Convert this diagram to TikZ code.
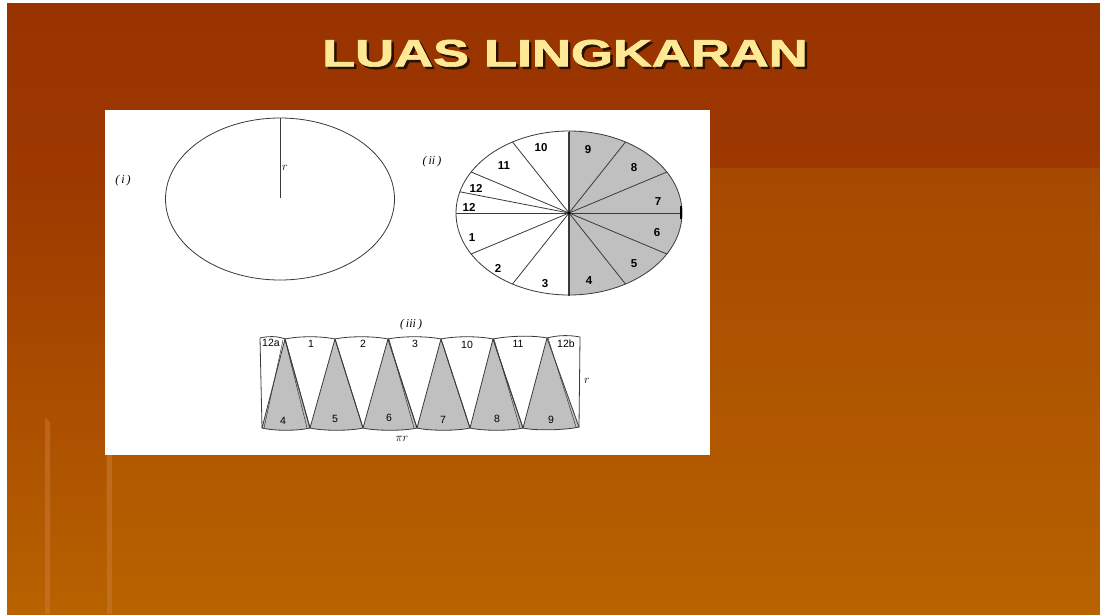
\documentclass[tikz,border=0pt]{standalone}
\usepackage{fontspec}
\setmainfont{Liberation Serif}
\newfontfamily\sansf{Liberation Sans}
\newfontfamily\titlef{Liberation Sans Bold}[FakeBold=1.6]
\usepackage{graphicx}
\usetikzlibrary{calc}
\definecolor{bgtop}{HTML}{993300}
\definecolor{bgband}{HTML}{9C3800}
\definecolor{bgmid}{HTML}{A64900}
\definecolor{bgbot}{HTML}{B86200}
\definecolor{titlecol}{HTML}{FFE994}
\definecolor{shadowcol}{HTML}{2A1000}
\definecolor{sectgray}{HTML}{C0C0C0}
\definecolor{linecol}{HTML}{3A3A3A}
\definecolor{streak}{HTML}{CC8040}
\newcommand{\titletext}{\scalebox{1.42}[1]{LUAS LINGKARAN}}
\begin{document}
\begin{tikzpicture}[x=1pt,y=-1pt,
  lbl/.style={font=\sansf\bfseries\fontsize{11.5}{12}\selectfont, inner sep=0pt},
  slbl/.style={font=\sansf\fontsize{10.5}{11}\selectfont, inner sep=0pt},
  ital/.style={font=\itshape\fontsize{12}{12}\selectfont, inner sep=0pt},
  ln/.style={draw=linecol, line width=0.8pt},
  titlestyle/.style={font=\titlef\fontsize{38}{38}\selectfont, inner sep=0pt}]
\useasboundingbox (0,0) rectangle (1100,614);
% background
\fill[white] (0,0) rectangle (1100,614);
\shade[top color=bgtop, bottom color=bgband] (7,3) rectangle (1100,168);
\shade[top color=bgmid, bottom color=bgbot] (7,168) rectangle (1100,614);
\shade[top color=bgband, bottom color=bgbot] (7,168) rectangle (105,614);
\fill[streak, opacity=0.45] (45,418) -- (50,422) -- (50,614) -- (45,614) -- cycle;
\fill[streak, opacity=0.45] (107,455) -- (112,455) -- (112,614) -- (107,614) -- cycle;
% title (shadow + text in one node)
\node[titlestyle] (title) at (565,54.5)
  {\makebox[0pt][l]{\hspace{2.5pt}\raisebox{-2.5pt}{\color{shadowcol}\titletext}}\color{titlecol}\titletext};
% picture box
\fill[white] (105,110) rectangle (710,455);

% ---------- (i) ----------
\coordinate (c1) at (280,199);
\draw[ln] (c1) ellipse [x radius=114.5, y radius=81];
\coordinate (c1top) at (280,118);
\draw[ln, line width=1pt] (c1top) -- (280,198);
\node[ital] (r1) at (285,168) {$r$};
\node[ital] (lab1) at (123,181) {(\,\textit{i}\,)};

% ---------- (ii) ----------
\coordinate (c2) at (569,213);
\begin{scope}
  \clip (c2) ellipse [x radius=113, y radius=82];
  \fill[sectgray] (569,120) rectangle (700,310);
\end{scope}
\draw[ln] (c2) ellipse [x radius=113, y radius=82];
\foreach \t in {90,60,30,0,-30,-60,-90,120,150,165,180,210,240}
  \draw[ln] (c2) -- ++({113*cos(\t)},{-82*sin(\t)});
\draw[ln, line width=1.1pt] (569,132) -- (569,296);
\fill[black] (c2) circle [radius=1.6];
\draw[black, line width=1.6pt] (681,206) -- (681,219);
\node[ital] (lab2) at (432,162) {(\,\textit{ii}\,)};
\node[lbl] (s9) at (588,150) {9};
\node[lbl] (s8) at (634,168) {8};
\node[lbl] (s7) at (658,202) {7};
\node[lbl] (s6) at (657,233) {6};
\node[lbl] (s5) at (634,264) {5};
\node[lbl] (s4) at (589,281) {4};
\node[lbl] (s3) at (545,284) {3};
\node[lbl] (s2) at (498,268) {2};
\node[lbl] (s1) at (472,238) {1};
\node[lbl] (s12b) at (469,207) {12};
\node[lbl] (s12a) at (476,188) {12};
\node[lbl] (s11) at (504,166) {11};
\node[lbl] (s10) at (541,148) {10};

% ---------- (iii) ----------
\node[ital] (lab3) at (411,325) {(\,\textit{iii}\,)};
\coordinate (a1) at (285,339);
\coordinate (a2) at (335,339);
\coordinate (a3) at (388,339);
\coordinate (a4) at (441,339);
\coordinate (a5) at (493,339);
\coordinate (a6) at (547,338);
\coordinate (b1) at (262,428);
\coordinate (b2) at (310,428);
\coordinate (b3) at (363,428);
\coordinate (b4) at (417,428);
\coordinate (b5) at (470,428);
\coordinate (b6) at (523,428);
\coordinate (b7) at (579,427);
\coordinate (tl) at (260,338);
\coordinate (tr) at (580,337);
% gray triangles
\foreach \k/\n in {1/2,2/3,3/4,4/5,5/6,6/7}{
  \fill[sectgray] (a\k) -- (b\k) .. controls ($(b\k)+(12,3)$) and ($(b\n)+(-12,3)$) .. (b\n) -- cycle;
  \draw[ln] (a\k) -- (b\k) .. controls ($(b\k)+(12,3)$) and ($(b\n)+(-12,3)$) .. (b\n) -- cycle;
}
% top wavy edges
\draw[ln] (tl) .. controls (268,336) and (278,336) .. (a1);
\foreach \k/\n in {1/2,2/3,3/4,4/5,5/6}{
  \draw[ln] (a\k) .. controls ($(a\k)+(14,-3)$) and ($(a\n)+(-14,-3)$) .. (a\n);
  \draw[ln] (a\k) -- (b\n);
}
\draw[ln] (a6) .. controls (558,335) and (570,335) .. (tr);
\draw[ln] (tl) -- (b1);
\draw[ln] (tr) -- (b7);
% doubled edges
\draw[ln, line width=0.5pt] (a1) -- ($(b2)+(-3,0)$);
\draw[ln, line width=0.5pt] ($(a1)+(-2,1)$) -- ($(b1)+(2,0)$);
\draw[ln, line width=0.5pt] ($(a3)+(1,0)$) -- ($(b4)+(-3,0)$);
\draw[ln, line width=0.5pt] ($(a5)+(1,0)$) -- ($(b6)+(-3,0)$);
\draw[ln, line width=0.5pt] ($(a6)+(1,0)$) -- ($(b7)+(-3,0)$);
% labels
\node[slbl] (t12a) at (271,343) {12a};
\node[slbl] (t1) at (311,344) {1};
\node[slbl] (t2) at (363,344) {2};
\node[slbl] (t3) at (415,344) {3};
\node[slbl] (t10) at (467,345) {10};
\node[slbl] (t11) at (518,344) {11};
\node[slbl] (t12b) at (566,344) {12b};
\node[slbl] (g4) at (283,421) {4};
\node[slbl] (g5) at (335,419) {5};
\node[slbl] (g6) at (389,418) {6};
\node[slbl] (g7) at (443,420) {7};
\node[slbl] (g8) at (497,419) {8};
\node[slbl] (g9) at (551,420) {9};
\node[ital] (rr) at (587,381) {$r$};
\node[ital] (pir) at (402,439) {$\pi r$};
\end{tikzpicture}
\end{document}
